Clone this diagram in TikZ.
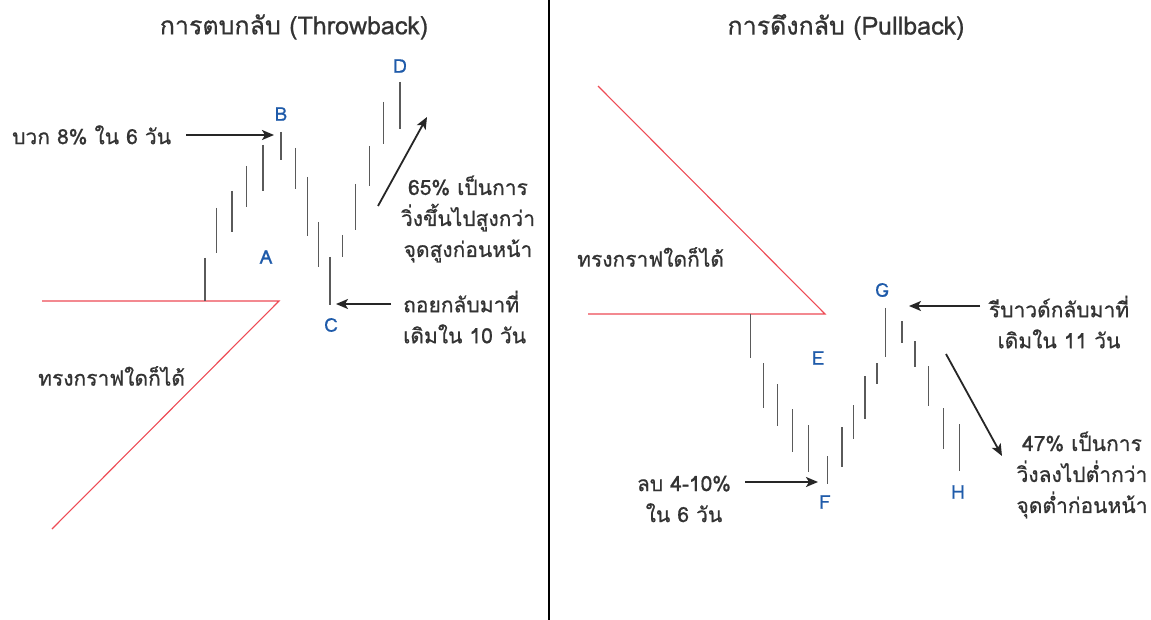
\documentclass[tikz,border=0pt]{standalone}
\usepackage{fontspec}
\setmainfont{Loma}[Script=Thai]
\newfontfamily\medfont{Loma}[Script=Thai,FakeBold=0.7]
\usetikzlibrary{arrows.meta}
\definecolor{txt}{HTML}{333333}
\definecolor{lbl}{HTML}{1F5BAA}
\definecolor{redl}{HTML}{EE4B55}
\definecolor{barc}{HTML}{5A5A5A}
\tikzset{
  body/.style={text=txt,font=\medfont\fontsize{21}{31}\selectfont,align=center,inner sep=0pt},
  ttl/.style={text=txt,font=\medfont\fontsize{25}{28}\selectfont,inner sep=0pt},
  letter/.style={text=lbl,font=\medfont\fontsize{19}{20}\selectfont,inner sep=0pt},
  redline/.style={draw=redl,line width=1.1pt},
  bar/.style={draw=barc,line width=1.2pt},
  arr/.style={draw=black!85,line width=1.8pt,-{Stealth[length=12pt,width=10pt,inset=3pt]}},
}
\begin{document}
\begin{tikzpicture}[x=1pt,y=-1pt]
\useasboundingbox[fill=white] (0,0) rectangle (1151,620);
% divider
\draw[line width=2pt] (549,0) -- (549,620);
% titles
\node[ttl] (t1) at (294,27) {การตบกลับ (Throwback)};
\node[ttl] (t2) at (846,27) {การดึงกลับ (Pullback)};
% ---------- left panel ----------
\draw[redline] (42,301) -- (279,301) -- (52,529);
\foreach \x/\a/\b in {205/258/301,216.7/208/253,232/191/232,246.7/166/207,263/145/191,281/132/160,295.7/148/189,307.3/177/236,318.7/222/267,330/257/305,342.7/235/257,355.7/184/230,369.3/146/186,383.7/102/144,400/82/129}
  \draw[bar] (\x,\a) -- (\x,\b);
\node[letter] (lA) at (266,257) {A};
\node[letter] (lB) at (281,114) {B};
\node[letter] (lC) at (331,325) {C};
\node[letter] (lD) at (400,66) {D};
\node[body,anchor=west] (tb) at (12,135) {บวก 8\% ใน 6 วัน};
\coordinate (bTail) at (186,135);
\coordinate (bTip) at (274,135);
\draw[arr] (bTail) -- (bTip);
\node[body] (tup) at (468,219) {65\% เป็นการ\\วิ่งขึ้นไปสูงกว่า\\จุดสูงก่อนหน้า};
\coordinate (upTail) at (378,206);
\coordinate (upTip) at (427,117);
\draw[arr] (upTail) -- (upTip);
\node[body,align=left,anchor=west] (tc) at (403,317) {ถอยกลับมาที่\\เดิมใน 10 วัน};
\coordinate (cTail) at (391,304);
\coordinate (cTip) at (336,304);
\draw[arr] (cTail) -- (cTip);
\node[body,anchor=west] (any1) at (38,376) {ทรงกราฟใดก็ได้};
% ---------- right panel ----------
\draw[redline] (588,314) -- (825,314) -- (598,86);
\foreach \x/\a/\b in {750.7/314/358,763.3/363/408,777.7/384/426,792.3/409/452,808.7/425/472,827.3/456/484,842/427/467,853.3/405/439,865/376/419,877/363/384,885.7/308/357,902/321/343,915/341/367,928.7/366/406,943.3/408/449,959.3/424/471}
  \draw[bar] (\x,\a) -- (\x,\b);
\node[letter] (lE) at (818,358) {E};
\node[letter] (lF) at (825,502) {F};
\node[letter] (lG) at (882,290) {G};
\node[letter] (lH) at (958,492) {H};
\node[body,anchor=west] (any2) at (577,257) {ทรงกราฟใดก็ได้};
\node[body] (tf) at (684,499) {ลบ 4-10\%\\ใน 6 วัน};
\coordinate (fTail) at (745,482);
\coordinate (fTip) at (818,482);
\draw[arr] (fTail) -- (fTip);
\node[body] (tg) at (1059,322) {รีบาวด์กลับมาที่\\เดิมใน 11 วัน};
\coordinate (gTail) at (980,306);
\coordinate (gTip) at (909,306);
\draw[arr] (gTail) -- (gTip);
\node[body] (th) at (1082,475) {47\% เป็นการ\\วิ่งลงไปต่ำกว่า\\จุดต่ำก่อนหน้า};
\coordinate (hTail) at (946,354);
\coordinate (hTip) at (1002,456);
\draw[arr] (hTail) -- (hTip);
\end{tikzpicture}
\end{document}
